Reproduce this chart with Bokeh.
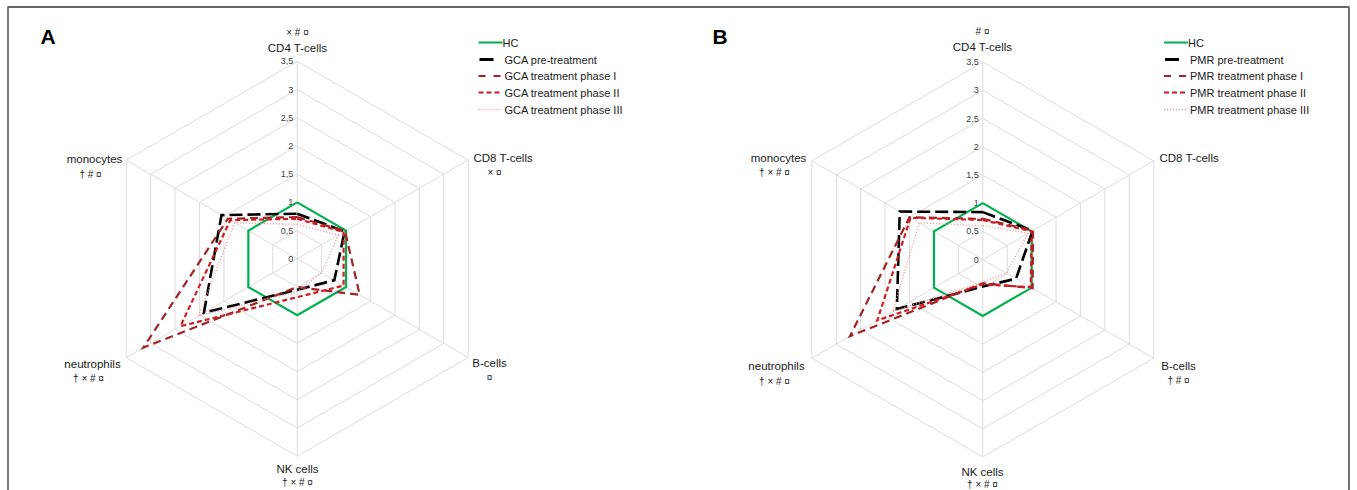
import numpy as np
from bokeh.plotting import figure
from bokeh.models import Range1d
from bokeh.core.properties import value
from bokeh.embed import file_html
from bokeh.resources import INLINE

# ---------------- data ----------------
cells = ["CD4 T-cells", "CD8 T-cells", "B-cells", "NK cells", "neutrophils", "monocytes"]
angles_deg = [90, 30, -30, -90, -150, 150]
ticks = [0, 0.5, 1, 1.5, 2, 2.5, 3, 3.5]
tick_labels = ["0", "0,5", "1", "1,5", "2", "2,5", "3", "3,5"]

hc = [1, 1, 1, 1, 1, 1]
gca_pre = [0.80, 0.97, 0.76, 0.55, 1.91, 1.55]
gca_p1 = [0.74, 0.98, 1.28, 0.50, 3.15, 1.42]
gca_p2 = [0.71, 0.95, 0.95, 0.68, 2.39, 1.37]
gca_p3 = [0.61, 0.84, 0.50, 0.58, 2.02, 1.28]

pmr_pre = [0.84, 1.02, 0.68, 0.48, 1.76, 1.70]
pmr_p1 = [0.72, 1.03, 1.02, 0.42, 2.72, 1.50]
pmr_p2 = [0.70, 1.00, 0.98, 0.44, 2.16, 1.48]
pmr_p3 = [0.60, 0.93, 0.48, 0.40, 1.85, 1.30]

sig_A = ["× # ¤", "× ¤", "¤", "† × # ¤", "† × # ¤", "† # ¤"]
sig_B = ["# ¤", "", "† # ¤", "† × # ¤", "† × # ¤", "† × # ¤"]

legend_A = ["HC", "GCA pre-treatment", "GCA treatment phase I", "GCA treatment phase II", "GCA treatment phase III"]
legend_B = ["HC", "PMR pre-treatment", "PMR treatment phase I", "PMR treatment phase II", "PMR treatment phase III"]

# ---------------- styles ----------------
styles = [
    dict(color="#00B050", width=2.2, dash="solid"),
    dict(color="#000000", width=2.6, dash="13 5"),
    dict(color="#9E2528", width=2.2, dash="8 5"),
    dict(color="#D21A22", width=2.2, dash="5 3"),
    dict(color="#EE9595", width=1.4, dash="1 2"),
]
legend_dash = ["solid", "solid", "7 8", "5 3", "1 2"]

W, H = 1357, 490
U = 56.4  # pixels per unit value

FONT = value("Liberation Sans")


def pg(xp, yp):
    """page pixel -> data coordinates"""
    return xp / U, -yp / U


p = figure(width=W, height=H, output_backend="svg", toolbar_location=None,
           x_range=Range1d(0, W / U), y_range=Range1d(-H / U, 0),
           min_border=0)
p.axis.visible = False
p.grid.visible = False
p.outline_line_color = None
p.background_fill_color = "white"

th = np.radians(angles_deg)


def radar(center_page, series, labels_pos, sig, sig_pos, legend, legend_x, letter, letter_x):
    cx, cy = pg(*center_page)
    # grid rings
    for r in ticks[1:]:
        xs = list(cx + r * np.cos(th)) + [cx + r * np.cos(th[0])]
        ys = list(cy + r * np.sin(th)) + [cy + r * np.sin(th[0])]
        p.line(xs, ys, line_color="#DCDCDC", line_width=1)
    rmax = ticks[-1]
    p.segment(x0=[cx] * 6, y0=[cy] * 6, x1=list(cx + rmax * np.cos(th)),
              y1=list(cy + rmax * np.sin(th)), line_color="#DCDCDC", line_width=1)
    # tick labels
    tx = [cx - 4 / U] * len(ticks)
    ty = [cy + t for t in ticks]
    p.text(x=tx, y=ty, text=tick_labels, text_align="right", text_baseline="middle",
           text_font=FONT, text_font_size="9px", text_color="#404040")
    # series
    for vals, st in zip(series, styles):
        v = np.array(vals, dtype=float)
        xs = list(cx + v * np.cos(th)) + [cx + v[0] * np.cos(th[0])]
        ys = list(cy + v * np.sin(th)) + [cy + v[0] * np.sin(th[0])]
        p.line(xs, ys, line_color=st["color"], line_width=st["width"],
               line_dash=st["dash"], line_join="miter")
    # axis labels
    for name, (lx, ly, al), s, (sx, sy) in zip(cells, labels_pos, sig, sig_pos):
        x, y = pg(lx, ly)
        p.text(x=[x], y=[y], text=[name], text_align=al, text_baseline="middle",
               text_font=FONT, text_font_size="11.5px", text_color="#1a1a1a")
        if s:
            x, y = pg(sx, sy)
            p.text(x=[x], y=[y], text=[s], text_align="center", text_baseline="middle",
                   text_font=FONT, text_font_size="10px", text_color="#1a1a1a")
    # legend
    rows = [42, 59, 75.5, 92, 109]
    for i, (lab, st) in enumerate(zip(legend, styles)):
        y = pg(0, rows[i])[1]
        x0 = pg(legend_x + (1 if i == 1 else 0), 0)[0]
        x1 = pg(legend_x + (15 if i == 1 else 24), 0)[0]
        p.line([x0, x1], [y, y], line_color=st["color"],
               line_width=(3 if i == 1 else st["width"]), line_dash=legend_dash[i])
        xt = pg(legend_x + (24 if i == 0 else 26), 0)[0]
        p.text(x=[xt], y=[y], text=[lab], text_align="left", text_baseline="middle",
               text_font=FONT, text_font_size="11px", text_color="#1a1a1a")
    lx, ly = pg(letter_x, 36)
    p.text(x=[lx], y=[ly], text=[letter], text_align="left", text_baseline="middle",
           text_font=FONT, text_font_size="21px", text_font_style="bold", text_color="#000000")


labels_A = [(297, 47, "center"), (473, 157, "left"), (489, 362, "center"),
            (297, 468, "center"), (92, 363, "center"), (94, 158, "center")]
sigpos_A = [(297, 32), (494, 172), (489, 377), (297, 482), (88, 378), (90, 174)]

labels_B = [(982, 46, "center"), (1159, 157, "left"), (1178, 365, "center"),
            (982, 471, "center"), (776, 365, "center"), (778, 157, "center")]
sigpos_B = [(982, 31), (1178, 172), (1178, 380), (982, 484), (774, 381), (774, 172)]

radar((296.7, 258.3), [hc, gca_pre, gca_p1, gca_p2, gca_p3], labels_A, sig_A, sigpos_A,
      legend_A, 478, "A", 40)
radar((982.3, 259.0), [hc, pmr_pre, pmr_p1, pmr_p2, pmr_p3], labels_B, sig_B, sigpos_B,
      legend_B, 1163.5, "B", 712)

# frame (left, top, right)
xl, yt = pg(7.5, 6.5)
xr = pg(1348.5, 0)[0]
yb = -H / U
p.line([xl, xl, xr, xr], [yb, yt, yt, yb], line_color="#666666", line_width=1.8)

open("out.html", "w").write(file_html(p, INLINE))
